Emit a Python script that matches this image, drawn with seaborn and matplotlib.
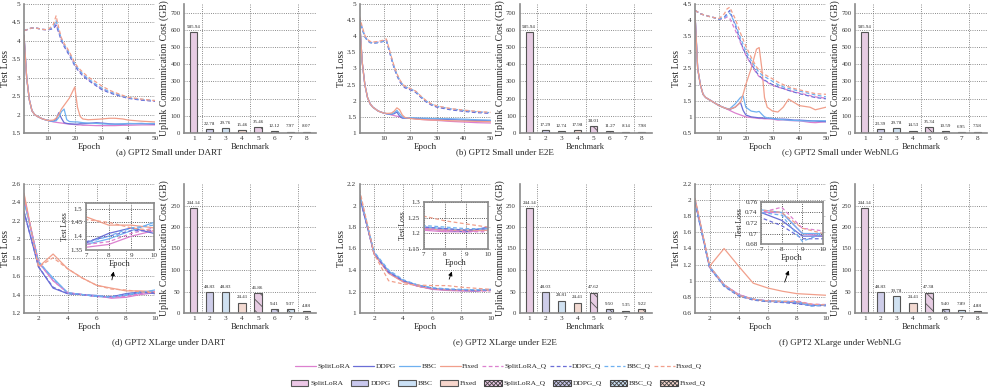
import matplotlib
matplotlib.use("Agg")
import matplotlib.pyplot as plt
import seaborn as sns
import pandas as pd
from matplotlib.lines import Line2D
from matplotlib.patches import Patch

sns.set_style("white")
plt.rcParams['font.family'] = ['Liberation Serif', 'DejaVu Serif']
plt.rcParams['hatch.linewidth'] = 0.6

# names and colours
methods = ["SplitLoRA", "DDPG", "BBC", "Fixed"]
line_colors = ["#dc80cf", "#6a6ed6", "#6fb0f0", "#f19f8b"]
bar_colors = ["#ecc7e6", "#c9c8ee", "#cbe1f6", "#f7d6cc"]
bench = ["1", "2", "3", "4", "5", "6", "7", "8"]

# (a) GPT2 Small under DART
ep_a = [1, 2, 3, 4, 5, 6, 8, 10, 12, 13, 14, 15, 16, 17, 18, 20, 21, 22, 23, 25, 28, 30, 33, 35, 38, 40, 45, 50]
a_sl = [4.15, 3.00, 2.40, 2.10, 2.00, 1.95, 1.88, 1.84, 1.80, 1.79, 1.78, 1.77, 1.76, 1.75, 1.74, 1.73, 1.72, 1.72, 1.71, 1.71, 1.70, 1.70, 1.70, 1.70, 1.71, 1.71, 1.72, 1.72]
a_ddpg = [4.15, 3.00, 2.40, 2.10, 2.00, 1.95, 1.88, 1.84, 1.82, 1.86, 2.05, 1.90, 1.78, 1.76, 1.75, 1.74, 1.74, 1.75, 1.75, 1.76, 1.78, 1.77, 1.75, 1.74, 1.74, 1.75, 1.76, 1.74]
a_bbc = [4.15, 3.00, 2.40, 2.10, 2.00, 1.95, 1.88, 1.84, 1.82, 1.83, 1.92, 2.08, 2.15, 1.86, 1.81, 1.80, 1.80, 1.79, 1.78, 1.77, 1.76, 1.75, 1.74, 1.74, 1.75, 1.76, 1.75, 1.76]
a_fixed = [4.15, 3.00, 2.40, 2.10, 2.00, 1.95, 1.88, 1.84, 1.85, 1.90, 2.00, 2.15, 2.25, 2.35, 2.45, 2.75, 2.20, 1.95, 1.88, 1.86, 1.87, 1.88, 1.90, 1.90, 1.88, 1.85, 1.82, 1.80]
a_sl_q = [4.28, 4.30, 4.33, 4.35, 4.35, 4.34, 4.31, 4.30, 4.35, 4.45, 4.25, 4.02, 3.88, 3.76, 3.64, 3.35, 3.25, 3.16, 3.08, 2.95, 2.80, 2.70, 2.61, 2.56, 2.49, 2.45, 2.40, 2.37]
a_ddpg_q = [4.28, 4.30, 4.33, 4.35, 4.35, 4.34, 4.31, 4.30, 4.33, 4.42, 4.22, 4.00, 3.85, 3.72, 3.60, 3.32, 3.22, 3.13, 3.05, 2.93, 2.78, 2.68, 2.59, 2.54, 2.48, 2.44, 2.39, 2.36]
a_bbc_q = [4.28, 4.30, 4.33, 4.35, 4.35, 4.34, 4.31, 4.30, 4.38, 4.55, 4.28, 4.05, 3.90, 3.78, 3.66, 3.37, 3.27, 3.18, 3.10, 2.97, 2.82, 2.72, 2.62, 2.57, 2.50, 2.46, 2.41, 2.38]
a_fixed_q = [4.28, 4.30, 4.33, 4.35, 4.35, 4.34, 4.31, 4.30, 4.45, 4.68, 4.35, 4.08, 3.93, 3.82, 3.70, 3.40, 3.30, 3.22, 3.15, 3.02, 2.88, 2.78, 2.66, 2.60, 2.52, 2.47, 2.42, 2.38]
a_cost = [585.94, 22.78, 29.76, 15.46, 35.46, 12.12, 7.97, 8.07]

# (b) GPT2 Small under E2E
ep_b = [1, 2, 3, 4, 5, 6, 8, 10, 11, 12, 13, 14, 15, 16, 17, 18, 20, 22, 24, 26, 28, 30, 35, 40, 45, 50]
b_sl = [4.55, 3.20, 2.50, 2.10, 1.90, 1.80, 1.68, 1.62, 1.60, 1.58, 1.56, 1.54, 1.52, 1.50, 1.49, 1.48, 1.46, 1.44, 1.42, 1.41, 1.40, 1.39, 1.36, 1.34, 1.32, 1.31]
b_ddpg = [4.55, 3.20, 2.50, 2.10, 1.90, 1.80, 1.68, 1.62, 1.60, 1.59, 1.58, 1.60, 1.65, 1.52, 1.46, 1.46, 1.46, 1.45, 1.45, 1.44, 1.44, 1.43, 1.42, 1.40, 1.39, 1.38]
b_bbc = [4.55, 3.20, 2.50, 2.10, 1.90, 1.80, 1.68, 1.62, 1.60, 1.59, 1.59, 1.63, 1.70, 1.60, 1.50, 1.47, 1.47, 1.47, 1.46, 1.46, 1.45, 1.45, 1.44, 1.43, 1.41, 1.40]
b_fixed = [4.55, 3.20, 2.50, 2.10, 1.90, 1.80, 1.68, 1.62, 1.61, 1.61, 1.62, 1.68, 1.78, 1.72, 1.56, 1.48, 1.45, 1.43, 1.42, 1.41, 1.40, 1.40, 1.38, 1.37, 1.36, 1.35]
b_sl_q = [4.55, 4.25, 4.00, 3.88, 3.82, 3.80, 3.82, 3.86, 3.90, 3.60, 3.30, 3.02, 2.80, 2.62, 2.50, 2.42, 2.36, 2.28, 2.12, 1.98, 1.88, 1.82, 1.74, 1.69, 1.65, 1.62]
b_ddpg_q = [4.55, 4.22, 3.98, 3.86, 3.80, 3.78, 3.80, 3.84, 3.88, 3.58, 3.28, 3.00, 2.78, 2.60, 2.48, 2.40, 2.34, 2.26, 2.10, 1.96, 1.86, 1.80, 1.72, 1.67, 1.63, 1.61]
b_bbc_q = [4.55, 4.24, 3.99, 3.87, 3.81, 3.79, 3.81, 3.85, 3.89, 3.62, 3.32, 3.04, 2.82, 2.64, 2.52, 2.44, 2.37, 2.29, 2.13, 1.99, 1.89, 1.83, 1.75, 1.70, 1.66, 1.63]
b_fixed_q = [4.62, 4.30, 4.03, 3.90, 3.84, 3.82, 3.84, 3.88, 3.92, 3.64, 3.34, 3.06, 2.84, 2.66, 2.53, 2.45, 2.38, 2.30, 2.14, 2.00, 1.90, 1.84, 1.76, 1.71, 1.67, 1.64]
b_cost = [585.94, 17.29, 12.74, 17.98, 38.01, 11.27, 8.14, 7.98]

# (c) GPT2 Small under WebNLG
ep_c = [1, 2, 3, 4, 5, 6, 8, 10, 12, 13, 14, 16, 18, 19, 20, 22, 24, 25, 26, 27, 28, 30, 32, 34, 36, 38, 40, 44, 46, 50]
c_sl = [4.20, 2.50, 2.00, 1.70, 1.60, 1.55, 1.45, 1.35, 1.28, 1.24, 1.20, 1.12, 1.06, 1.03, 1.00, 0.98, 0.96, 0.95, 0.95, 0.94, 0.94, 0.93, 0.90, 0.91, 0.89, 0.88, 0.88, 0.83, 0.82, 0.85]
c_ddpg = [4.20, 2.50, 2.00, 1.70, 1.60, 1.55, 1.45, 1.35, 1.28, 1.25, 1.23, 1.30, 1.45, 1.20, 1.06, 1.00, 0.98, 0.97, 0.97, 0.96, 0.96, 0.95, 0.93, 0.93, 0.92, 0.90, 0.90, 0.88, 0.87, 0.85]
c_bbc = [4.20, 2.50, 2.00, 1.70, 1.60, 1.55, 1.45, 1.35, 1.28, 1.26, 1.25, 1.40, 1.60, 1.65, 1.30, 1.18, 1.15, 1.17, 1.08, 1.00, 0.97, 0.95, 0.92, 0.91, 0.90, 0.89, 0.88, 0.87, 0.88, 0.88]
c_fixed = [4.20, 2.50, 2.00, 1.70, 1.60, 1.55, 1.45, 1.35, 1.28, 1.25, 1.24, 1.30, 1.45, 1.70, 2.00, 2.50, 3.10, 3.15, 2.50, 1.60, 1.30, 1.18, 1.15, 1.30, 1.55, 1.45, 1.35, 1.30, 1.22, 1.30]
c_sl_q = [4.30, 4.25, 4.20, 4.17, 4.15, 4.12, 4.08, 4.02, 4.05, 4.10, 4.05, 3.70, 3.30, 3.10, 2.92, 2.62, 2.35, 2.25, 2.18, 2.12, 2.07, 1.98, 1.92, 1.88, 1.82, 1.78, 1.74, 1.66, 1.62, 1.58]
c_ddpg_q = [4.30, 4.25, 4.20, 4.17, 4.15, 4.12, 4.08, 4.03, 4.10, 4.20, 4.30, 3.85, 3.35, 3.12, 2.95, 2.65, 2.38, 2.28, 2.20, 2.14, 2.09, 2.00, 1.93, 1.88, 1.82, 1.77, 1.72, 1.64, 1.60, 1.56]
c_bbc_q = [4.30, 4.25, 4.20, 4.17, 4.15, 4.12, 4.08, 4.03, 4.08, 4.15, 4.22, 3.90, 3.45, 3.25, 3.05, 2.75, 2.48, 2.38, 2.30, 2.25, 2.20, 2.10, 2.00, 1.93, 1.88, 1.84, 1.80, 1.72, 1.68, 1.62]
c_fixed_q = [4.30, 4.25, 4.20, 4.17, 4.15, 4.12, 4.08, 4.05, 4.20, 4.35, 4.40, 4.05, 3.60, 3.40, 3.20, 2.85, 2.55, 2.45, 2.38, 2.32, 2.27, 2.18, 2.08, 2.00, 1.93, 1.88, 1.84, 1.76, 1.72, 1.70]
c_cost = [585.94, 23.39, 29.78, 14.53, 35.34, 10.59, 6.95, 7.58]

# (d)-(f) GPT2 XLarge, 10 epochs
ep_x = [1, 2, 3, 4, 5, 6, 7, 8, 9, 10]
d_sl = [2.45, 1.75, 1.55, 1.42, 1.40, 1.39, 1.36, 1.37, 1.40, 1.42]
d_ddpg = [2.30, 1.70, 1.47, 1.41, 1.40, 1.38, 1.375, 1.41, 1.43, 1.41]
d_bbc = [2.42, 1.75, 1.58, 1.42, 1.40, 1.39, 1.37, 1.39, 1.42, 1.45]
d_fixed = [2.50, 1.70, 1.84, 1.68, 1.58, 1.50, 1.47, 1.44, 1.44, 1.43]
d_sl_q = [2.45, 1.75, 1.55, 1.42, 1.40, 1.38, 1.37, 1.38, 1.41, 1.43]
d_ddpg_q = [2.30, 1.70, 1.48, 1.41, 1.40, 1.38, 1.38, 1.40, 1.42, 1.42]
d_bbc_q = [2.42, 1.76, 1.57, 1.42, 1.40, 1.38, 1.375, 1.40, 1.43, 1.44]
d_fixed_q = [2.48, 1.70, 1.80, 1.68, 1.58, 1.50, 1.46, 1.45, 1.43, 1.42]
d_cost = [244.14, 48.83, 48.83, 24.41, 46.86, 9.41, 9.37, 4.88]

e_sl = [2.10, 1.55, 1.37, 1.29, 1.25, 1.22, 1.21, 1.205, 1.205, 1.21]
e_ddpg = [2.08, 1.56, 1.38, 1.30, 1.25, 1.225, 1.215, 1.21, 1.205, 1.22]
e_bbc = [2.10, 1.56, 1.39, 1.30, 1.26, 1.23, 1.22, 1.215, 1.21, 1.215]
e_fixed = [2.12, 1.55, 1.37, 1.29, 1.25, 1.225, 1.215, 1.21, 1.21, 1.21]
e_sl_q = [2.10, 1.56, 1.38, 1.30, 1.25, 1.225, 1.215, 1.21, 1.205, 1.205]
e_ddpg_q = [2.09, 1.55, 1.38, 1.30, 1.26, 1.23, 1.22, 1.215, 1.21, 1.215]
e_bbc_q = [2.11, 1.57, 1.40, 1.31, 1.26, 1.235, 1.225, 1.22, 1.215, 1.215]
e_fixed_q = [2.15, 1.55, 1.30, 1.27, 1.26, 1.255, 1.255, 1.24, 1.23, 1.22]
e_cost = [244.14, 48.03, 28.81, 24.41, 47.62, 9.50, 5.35, 9.22]

f_sl = [2.00, 1.17, 0.95, 0.83, 0.77, 0.75, 0.74, 0.74, 0.70, 0.695]
f_ddpg = [1.98, 1.17, 0.94, 0.82, 0.77, 0.745, 0.74, 0.725, 0.695, 0.695]
f_bbc = [2.00, 1.18, 0.95, 0.82, 0.77, 0.75, 0.745, 0.74, 0.70, 0.70]
f_fixed = [2.02, 1.18, 1.40, 1.18, 0.97, 0.91, 0.87, 0.84, 0.83, 0.82]
f_sl_q = [2.00, 1.17, 0.95, 0.83, 0.77, 0.75, 0.74, 0.75, 0.71, 0.705]
f_ddpg_q = [1.97, 1.16, 0.93, 0.81, 0.76, 0.74, 0.73, 0.715, 0.69, 0.69]
f_bbc_q = [1.99, 1.17, 0.94, 0.82, 0.77, 0.745, 0.74, 0.735, 0.685, 0.70]
f_fixed_q = [2.02, 1.18, 0.95, 0.82, 0.77, 0.75, 0.745, 0.74, 0.71, 0.70]
f_cost = [244.14, 48.83, 39.78, 24.41, 47.38, 9.40, 7.89, 4.88]

captions = ["(a) GPT2 Small under DART", "(b) GPT2 Small under E2E", "(c) GPT2 Small under WebNLG",
            "(d) GPT2 XLarge under DART", "(e) GPT2 XLarge under E2E", "(f) GPT2 XLarge under WebNLG"]

W, H = 997, 391
fig = plt.figure(figsize=(W / 100, H / 100), dpi=100)


def px_axes(x0, y0, w, h):
    return fig.add_axes([x0 / W, 1 - (y0 + h) / H, w / W, h / H])


def style_axes(ax, box=False):
    ax.grid(True, color="#666666", linestyle=":", linewidth=0.6)
    ax.set_axisbelow(True)
    for s in ["left", "bottom"]:
        ax.spines[s].set_color("#8a8a8a")
        ax.spines[s].set_linewidth(1.2)
    for s in ["top", "right"]:
        ax.spines[s].set_visible(box)
        ax.spines[s].set_color("#8a8a8a")
        ax.spines[s].set_linewidth(1.2)
    ax.tick_params(labelsize=5.2, length=1.5, pad=1, colors="#333333")


def draw_lines(ax, ep, solid, dashed):
    for vals, c in zip(solid, line_colors):
        sns.lineplot(x=ep, y=vals, ax=ax, color=c, linewidth=0.9)
    for vals, c in zip(dashed, line_colors):
        sns.lineplot(x=ep, y=vals, ax=ax, color=c, linewidth=0.9, linestyle=(0, (3, 2)))


def draw_bars(ax, cost, ymax, ystep):
    df = pd.DataFrame({"bench": bench, "cost": cost})
    sns.barplot(data=df, x="bench", y="cost", hue="bench", palette=bar_colors * 2,
                legend=False, width=0.45, edgecolor="#555555", linewidth=0.8, ax=ax)
    for i, p in enumerate(ax.patches):
        if i >= 4:
            p.set_hatch("\\\\\\")
        ax.text(p.get_x() + p.get_width() / 2, p.get_height() + ymax * 0.025,
                f"{cost[i]:.2f}", ha="center", va="bottom", fontsize=3.6)
    ax.set_ylim(0, ymax)
    ax.set_yticks(list(range(0, int(ymax * 0.97) + 1, ystep)))
    ax.set_xlim(-0.6, 7.6)
    style_axes(ax)
    ax.tick_params(axis="y", labelsize=4.8)
    ax.grid(False, axis="x")
    for xv in [0.5, 3.5, 6.5]:
        ax.axvline(xv, color="#666666", linestyle=":", linewidth=0.6, zorder=0)
    ax.set_xlabel("Benchmark", fontsize=6, labelpad=1)
    ax.set_ylabel("Uplink Communication Cost (GB)", fontsize=7, labelpad=1)


pitch = 335.5
top_y, bot_y, ah = 4, 184, 129
line_sets = [
    (ep_a, [a_sl, a_ddpg, a_bbc, a_fixed], [a_sl_q, a_ddpg_q, a_bbc_q, a_fixed_q], (1.5, 5), 0.5, a_cost),
    (ep_b, [b_sl, b_ddpg, b_bbc, b_fixed], [b_sl_q, b_ddpg_q, b_bbc_q, b_fixed_q], (1, 5), 0.5, b_cost),
    (ep_c, [c_sl, c_ddpg, c_bbc, c_fixed], [c_sl_q, c_ddpg_q, c_bbc_q, c_fixed_q], (0.5, 4.5), 0.5, c_cost),
    (ep_x, [d_sl, d_ddpg, d_bbc, d_fixed], [d_sl_q, d_ddpg_q, d_bbc_q, d_fixed_q], (1.2, 2.6), 0.2, d_cost),
    (ep_x, [e_sl, e_ddpg, e_bbc, e_fixed], [e_sl_q, e_ddpg_q, e_bbc_q, e_fixed_q], (1.0, 2.2), 0.2, e_cost),
    (ep_x, [f_sl, f_ddpg, f_bbc, f_fixed], [f_sl_q, f_ddpg_q, f_bbc_q, f_fixed_q], (0.6, 2.2), 0.2, f_cost),
]

# inset settings for bottom row: (left offset, top, width, height, ylim, yticks, arrow tail, arrow head)
insets = [
    (62, 203, 68, 47, (1.35, 1.52), [1.35, 1.4, 1.45, 1.5], (7.0, 1.53), (7.2, 1.68)),
    (64, 202, 64, 47, (1.15, 1.3), [1.15, 1.2, 1.25, 1.3], (7.1, 1.29), (7.4, 1.41)),
    (66, 202, 62, 42, (0.68, 0.76), [0.68, 0.7, 0.72, 0.74, 0.76], (7.1, 0.95), (7.5, 1.16)),
]

for k, (ep, solid, dashed, ylim, ystep, cost) in enumerate(line_sets):
    row, col = divmod(k, 3)
    y0 = top_y if row == 0 else bot_y
    lx = 24 + col * pitch
    ax = px_axes(lx, y0, 131, ah)
    draw_lines(ax, ep, solid, dashed)
    ax.set_xlim(ep[0], ep[-1])
    ax.set_ylim(*ylim)
    n = int(round((ylim[1] - ylim[0]) / ystep))
    ax.set_yticks([round(ylim[0] + i * ystep, 2) for i in range(n + 1)])
    ax.set_yticklabels([f"{v:g}" for v in ax.get_yticks()])
    ax.set_xticks([10, 20, 30, 40, 50] if row == 0 else [2, 4, 6, 8, 10])
    style_axes(ax)
    ax.set_xlabel("Epoch", fontsize=6.5, labelpad=1)
    ax.set_ylabel("Test Loss", fontsize=7, labelpad=1)

    if row == 1:
        ox, iy, iw, ih, iyl, iyt, tail, head = insets[col]
        ins = px_axes(lx + ox, iy, iw, ih)
        ins.set_facecolor("white")
        draw_lines(ins, ep, solid, dashed)
        ins.set_xlim(7, 10)
        ins.set_ylim(*iyl)
        ins.set_xticks([7, 8, 9, 10])
        ins.set_yticks(iyt)
        ins.set_yticklabels([f"{v:g}" for v in iyt])
        style_axes(ins, box=True)
        ins.grid(True, color="#222222", linestyle=":", linewidth=0.6)
        ins.tick_params(labelsize=5)
        ins.set_xlabel("Epoch", fontsize=6, labelpad=1)
        ins.set_ylabel("Test Loss", fontsize=5.5, labelpad=1)
        ax.annotate("", xy=head, xytext=tail,
                    arrowprops=dict(arrowstyle="-|>", color="black", lw=0.6, mutation_scale=6))

    bx = px_axes(184 + col * pitch, y0, 132, ah)
    if row == 0:
        draw_bars(bx, cost, 750, 100)
    else:
        draw_bars(bx, cost, 300, 50)

    fig.text((169 + col * pitch) / W, 1 - (152 if row == 0 else 343) / H, captions[k],
             ha="center", va="center", fontsize=6.5)

line_handles = [Line2D([], [], color=c, lw=0.9) for c in line_colors] + \
               [Line2D([], [], color=c, lw=0.9, linestyle=(0, (3, 2))) for c in line_colors]
line_labels = methods + [m + "_Q" for m in methods]
fig.legend(line_handles, line_labels, loc="center", bbox_to_anchor=(0.5, 1 - 366 / H), ncol=8,
           frameon=False, fontsize=5.4, handlelength=2.8, handletextpad=0.2, columnspacing=0.4)

bar_handles = [Patch(facecolor=c, edgecolor="#555555", lw=0.8) for c in bar_colors] + \
              [Patch(facecolor=c, edgecolor="#444444", lw=0.8, hatch="xxxxxxxx") for c in bar_colors]
fig.legend(bar_handles, line_labels, loc="center", bbox_to_anchor=(0.5, 1 - 383 / H), ncol=8,
           frameon=False, fontsize=5.4, handlelength=2.3, handleheight=1.0, handletextpad=0.3,
           columnspacing=1.0)

fig.savefig("out.png", dpi=100)
